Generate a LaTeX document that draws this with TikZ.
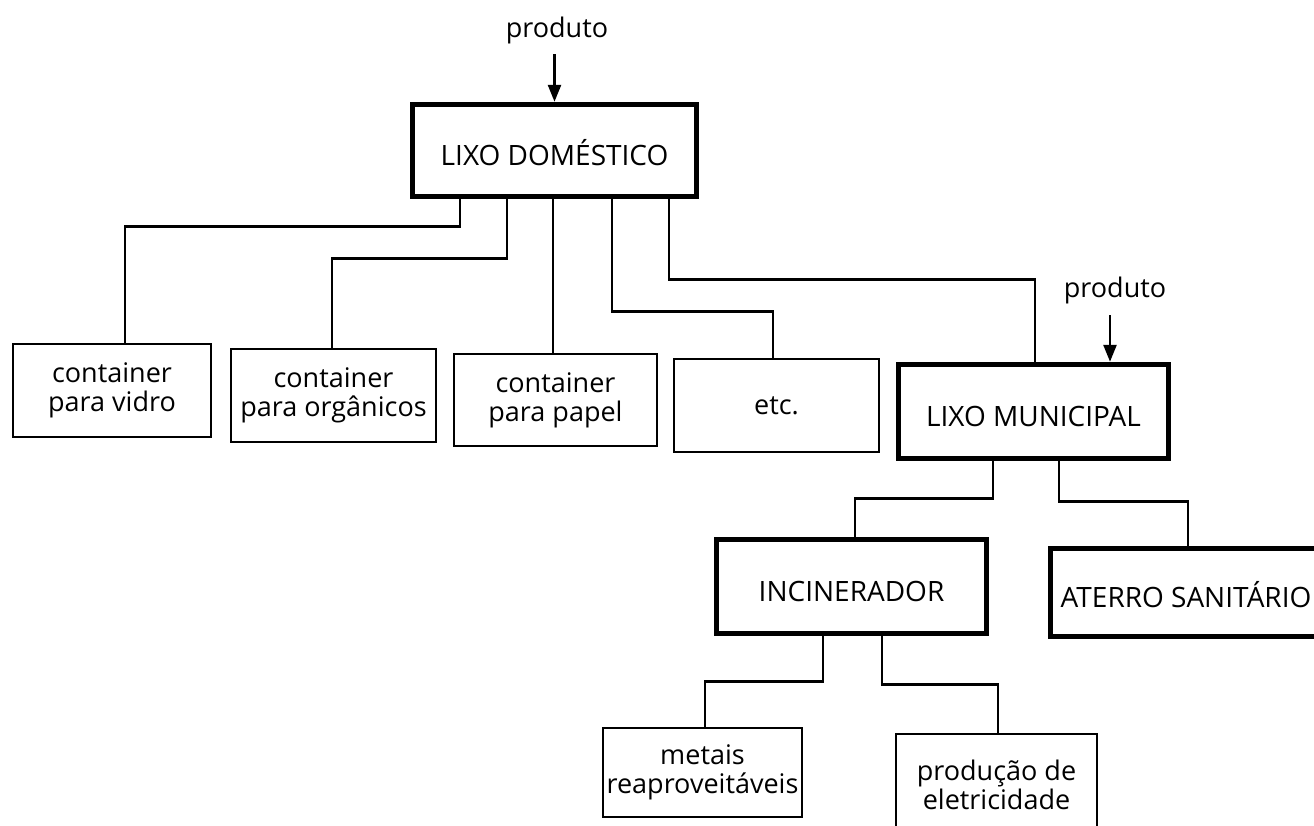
\documentclass[tikz,border=0pt]{standalone}
\usepackage{fontspec}
\setmainfont{Open Sans}
\usetikzlibrary{arrows.meta}
\tikzset{
  thinbox/.style={draw, line width=2.6pt, inner sep=0pt, align=center,
    font=\fontsize{27}{29}\selectfont},
  thickbox/.style={draw, line width=5.5pt, inner sep=0pt, align=center,
    font=\fontsize{28}{30}\selectfont, text height=30pt, text depth=0pt},
  capsonly/.style={inner sep=0pt, align=center,
    font=\fontsize{28}{30}\selectfont, text height=30pt, text depth=0pt},
  thickline/.style={line width=5.5pt},
  link/.style={line width=2.6pt},
  feed/.style={line width=2.6pt, -{Triangle[length=17pt,width=13pt]}},
  lbl/.style={inner sep=0pt, font=\fontsize{27}{29}\selectfont},
}
\begin{document}
\begin{tikzpicture}[x=1pt,y=1pt]
\useasboundingbox (0,0) rectangle (1314,-825);
\clip (0,0) rectangle (1314,-825);
% top node
\node[thickbox, minimum width=284pt, minimum height=92pt] (dom) at (554.5,-150.5) {LIXO DOMÉSTICO};
\node[lbl] (p1) at (557,-30) {produto};
\coordinate (p1s) at (555,-55);
\draw[feed] (p1s) -- (dom.north |- p1s) -- (dom.north);
% second level
\node[thinbox, minimum width=198pt, minimum height=93pt] (vid) at (112,-390.5) {container\\para vidro};
\node[thinbox, minimum width=205pt, minimum height=93pt] (org) at (333.5,-395.5) {container\\para orgânicos};
\node[thinbox, minimum width=203pt, minimum height=92pt] (pap) at (555.5,-400) {container\\para papel};
\node[thinbox, minimum width=205pt, minimum height=93pt] (etc) at (776.5,-405.5) {etc.};
\node[thickbox, minimum width=270pt, minimum height=94pt] (mun) at (1033.5,-411.5) {LIXO MUNICIPAL};
\node[lbl] (p2) at (1115,-290) {produto};
\coordinate (p2s) at (1110,-315);
\draw[feed] (p2s) -- (p2s |- mun.north);
% connectors from dom
\draw[link] ([xshift=-94.5pt]dom.south) -- ++(0,-27) -| ([xshift=13pt]vid.north);
\draw[link] ([xshift=-47.5pt]dom.south) -- ++(0,-59) -| ([xshift=-1.5pt]org.north);
\draw[link] ([xshift=-2.5pt]pap.north |- dom.south) -- ([xshift=-2.5pt]pap.north);
\draw[link] ([xshift=57.5pt]dom.south) -- ++(0,-112) -| ([xshift=-3.5pt]etc.north);
\draw[link] ([xshift=114.5pt]dom.south) -- ++(0,-80) -| ([xshift=1.5pt]mun.north);
% third level
\node[thickbox, minimum width=270pt, minimum height=94pt] (inc) at (851.5,-586.5) {INCINERADOR};
\node[capsonly, minimum width=271pt, minimum height=88pt] (ate) at (1186,-592.5) {ATERRO SANITÁRIO};
\draw[thickline] ([xshift=60pt]ate.north east) -| (ate.south west) -- ([xshift=60pt]ate.south east);
\draw[link] ([xshift=-40.5pt]mun.south) -- ++(0,-37) -| ([xshift=3.5pt]inc.north);
\draw[link] ([xshift=25.5pt]mun.south) -- ++(0,-40) -| ([xshift=2pt]ate.north);
% fourth level
\node[thinbox, minimum width=199pt, minimum height=89pt] (met) at (702.5,-772.5) {metais\\reaproveitáveis};
\node[thinbox, minimum width=201pt, minimum height=102pt] (pro) at (996.5,-785) {produção de\\eletricidade};
\draw[link] ([xshift=-28.5pt]inc.south) -- ++(0,-45) -| ([xshift=2.5pt]met.north);
\draw[link] ([xshift=30.5pt]inc.south) -- ++(0,-48) -| ([xshift=1.5pt]pro.north);
\end{tikzpicture}
\end{document}
